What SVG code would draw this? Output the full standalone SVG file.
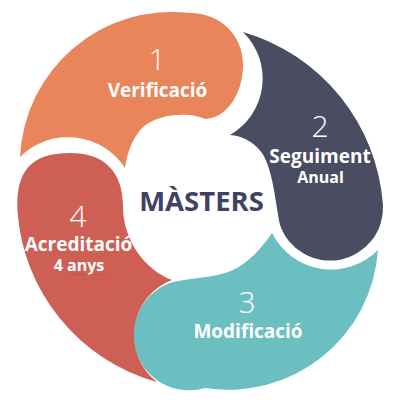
<svg xmlns="http://www.w3.org/2000/svg" width="400" height="400" viewBox="0 0 400 400">
  <style>
    .num { font-family: "Open Sans", "Liberation Sans", sans-serif; font-weight: 300; font-size: 30px; fill: #ffffff; text-anchor: middle; }
    .lbl { font-family: "Open Sans", "Liberation Sans", sans-serif; font-weight: 700; font-size: 19px; fill: #ffffff; text-anchor: middle; }
    .sub { font-family: "Open Sans", "Liberation Sans", sans-serif; font-weight: 700; font-size: 16px; fill: #ffffff; text-anchor: middle; }
    .title { font-family: "Open Sans", "Liberation Sans", sans-serif; font-weight: 700; font-size: 27.5px; fill: #3f4263; text-anchor: middle; }
  </style>
  <rect x="0" y="0" width="400" height="400" fill="#ffffff"/>
  <g id="verificacio">
    <path fill="#e9855a" d="M20,157 A152,152 0 0 1 190,13 C220,13 243,35 243,65 C243,92 228,118 205,119 C190,112 160,113 143,127 C133,137 127,152 125,168 A68,68 0 0 0 20,157 Z"/>
    <text class="num" x="157" y="70">1</text>
    <text class="lbl" x="157.5" y="97">Verificació</text>
  </g>
  <g id="seguiment">
    <path fill="#4a4c62" d="M243,32 A195,195 0 0 1 383,205 A53,53 0 0 1 280,225 C275,200 273,170 262,153 C253,141 242,136 230,135 A65,65 0 0 0 243,32 Z"/>
    <text class="num" x="320" y="137">2</text>
    <text class="lbl" x="320" y="163">Seguiment</text>
    <text class="sub" x="320.5" y="183">Anual</text>
  </g>
  <g id="modificacio">
    <path fill="#6bbfc0" d="M378,250 A150,150 0 0 1 205,388 A54,54 0 0 1 173,282 C190,278 215,278 233,270 C247,264 262,248 272,233 A66,66 0 0 0 378,250 Z"/>
    <text class="num" x="247" y="313">3</text>
    <text class="lbl" x="248" y="338">Modificació</text>
  </g>
  <g id="acreditacio">
    <path fill="#cd5f55" d="M157,382 A191,191 0 0 1 17.4,210 C16,172 30,153 70,153 C103,153 123,170 123,207 C123,240 145,270 172,280 A59,59 0 0 0 157,382 Z"/>
    <text class="num" x="78" y="227">4</text>
    <text class="lbl" x="78.5" y="251">Acreditació</text>
    <text class="sub" x="79" y="271">4 anys</text>
    <path d="M67,274.5 L107,274.5" stroke="#e0403a" stroke-width="1" stroke-dasharray="1.5 1"/>
  </g>
  <g id="masters">
    <text class="title" x="201.5" y="211">MÀSTERS</text>
  </g>
</svg>
